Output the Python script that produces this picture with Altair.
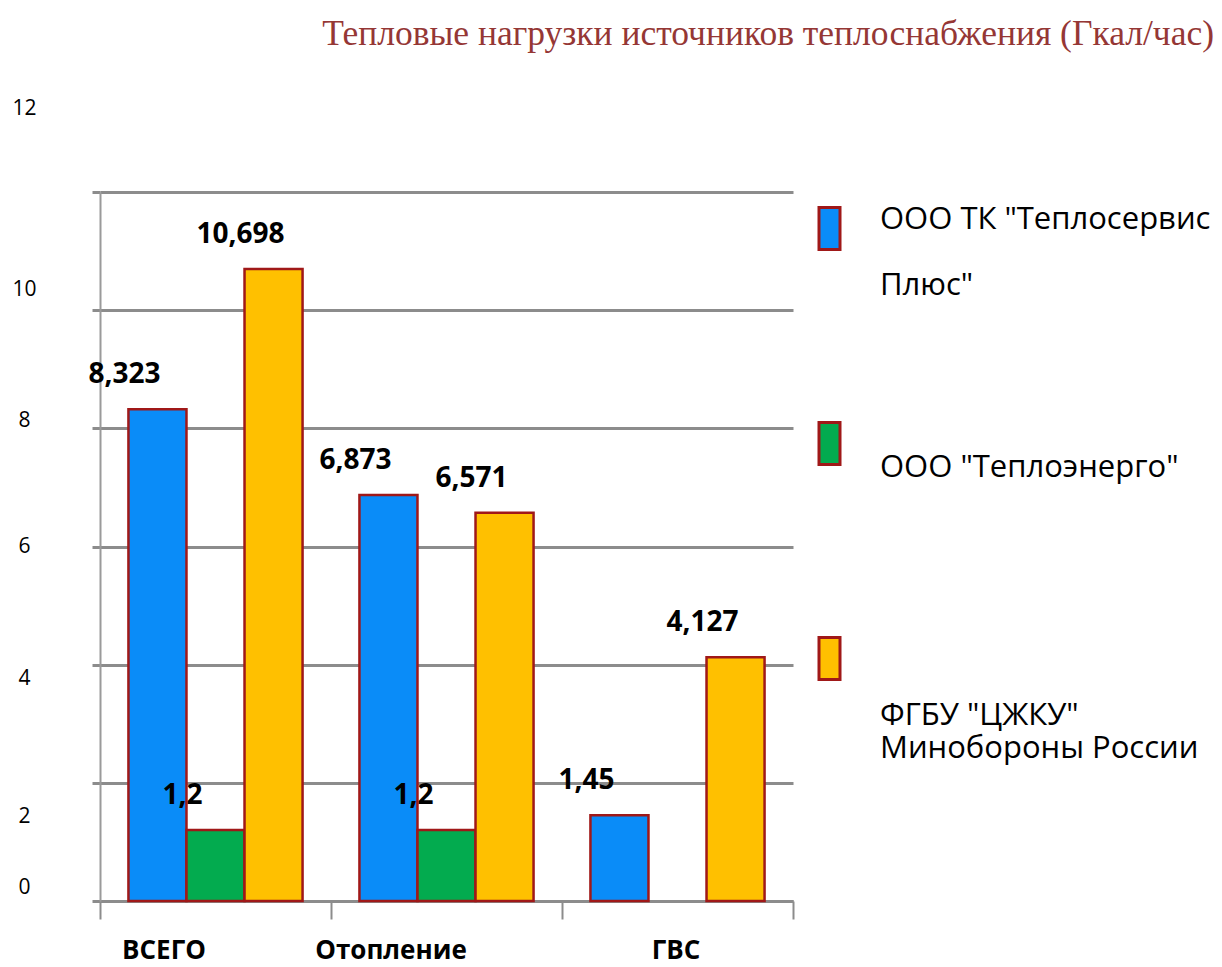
import altair as alt
import pandas as pd

categories = ["ВСЕГО", "Отопление", "ГВС"]
series = ['ООО ТК "Теплосервис Плюс"', 'ООО "Теплоэнерго"', 'ФГБУ "ЦЖКУ" Минобороны России']
teploservis = [8.323, 6.873, 1.45]
teploenergo = [1.2, 1.2, None]
cjku = [10.698, 6.571, 4.127]
colors = ["#0A8CF8", "#03AB4F", "#FFC000"]
y_ticks = [0, 2, 4, 6, 8, 10, 12]

rows = []
for s, vals in zip(series, [teploservis, teploenergo, cjku]):
    for c, v in zip(categories, vals):
        if v is not None:
            rows.append({"category": c, "series": s, "value": v})
df = pd.DataFrame(rows)

GRID = "#8C8C8C"
EDGE = "#A01818"
BLANK = "\u2800"

y_label_offset = {
    "condition": [
        {"test": "datum.value == 12", "value": -84},
        {"test": "datum.value == 10", "value": -21},
        {"test": "datum.value == 8", "value": -8},
        {"test": "datum.value == 4", "value": 14},
        {"test": "datum.value == 2", "value": 34},
        {"test": "datum.value == 0", "value": -14},
    ],
    "value": 0,
}
x_label_offset = {
    "condition": [
        {"test": "datum.value == 'ВСЕГО'", "value": -52},
        {"test": "datum.value == 'Отопление'", "value": -56},
    ],
    "value": -2,
}

b = "'" + BLANK + "'"
legend_expr = (
    "datum.label == '" + series[0] + "' ? ['ООО ТК \"Теплосервис', " + b + ", 'Плюс\"', " + b + "] : "
    "datum.label == '" + series[2] + "' ? [" + b + ", " + b + ", 'ФГБУ \"ЦЖКУ\"', 'Минобороны России'] : "
    "[" + b + ", datum.label, " + b + ", " + b + "]"
)

x_enc = alt.X(
    "category:N",
    sort=categories,
    scale=alt.Scale(paddingInner=0, paddingOuter=0),
    axis=alt.Axis(
        title=None,
        labelAngle=0,
        tickBand="extent",
        grid=False,
        domainColor=GRID,
        domainWidth=3,
        tickColor=GRID,
        tickWidth=2,
        tickSize=18,
        labelFont="Open Sans",
        labelFontWeight="bold",
        labelFontSize=26,
        labelColor="black",
        labelPadding=18,
        labelOffset=x_label_offset,
    ),
)
xo_enc = alt.XOffset("series:N", sort=series, scale=alt.Scale(paddingInner=0, paddingOuter=0.49))
y_enc = alt.Y(
    "value:Q",
    scale=alt.Scale(domain=[0, 12], nice=False),
    axis=alt.Axis(
        title=None,
        values=y_ticks,
        format="d",
        grid=True,
        gridColor=GRID,
        gridWidth=3,
        domain=True,
        domainColor="#9A9A9A",
        domainWidth=2,
        tickColor=GRID,
        tickWidth=3,
        tickSize=8,
        labelFont="Open Sans",
        labelFontSize=21,
        labelColor="black",
        labelAlign="center",
        labelPadding=68,
        labelOffset=y_label_offset,
    ),
)

bars = alt.Chart(df).mark_bar(stroke=EDGE, strokeWidth=2.5).encode(
    x=x_enc,
    xOffset=xo_enc,
    y=y_enc,
    color=alt.Color(
        "series:N",
        sort=series,
        scale=alt.Scale(domain=series, range=colors),
        legend=alt.Legend(
            title=None,
            orient="none",
            legendX=707,
            legendY=14,
            symbolType="M-0.5,-1H0.5V1H-0.5Z",
            symbolSize=1764,
            symbolStrokeColor=EDGE,
            symbolStrokeWidth=3,
            symbolOpacity=1,
            labelFont="Open Sans",
            labelFontSize=31,
            labelColor="black",
            labelBaseline="alphabetic",
            labelOffset=28,
            labelLimit=500,
            labelExpr=legend_expr,
            rowPadding=82,
            padding=0,
        ),
    ),
)

labels = alt.Chart(df).transform_calculate(
    label="replace(toString(datum.value), '.', ',')"
).mark_text(
    font="Open Sans",
    fontWeight="bold",
    fontSize=28,
    color="black",
    baseline="middle",
    dx=-33,
    dy=-34,
).encode(
    x=alt.X("category:N", sort=categories),
    xOffset=alt.XOffset("series:N", sort=series),
    y=alt.Y("value:Q"),
    text="label:N",
)

chart = (
    alt.layer(bars, labels)
    .properties(
        width=693,
        height=709,
        autosize=alt.AutoSizeParams(type="none"),
        padding={"left": 92, "top": 184, "right": 421, "bottom": 58},
        title=alt.TitleParams(
            "Тепловые нагрузки источников теплоснабжения (Гкал/час)",
            font="Liberation Serif",
            fontSize=35.5,
            fontWeight="normal",
            color="#953735",
            anchor="end",
            frame="bounds",
            offset=45,
            dx=3,
        ),
    )
    .configure_view(stroke=None)
)

chart.save("out.html", embed_options={"renderer": "svg", "actions": False})
